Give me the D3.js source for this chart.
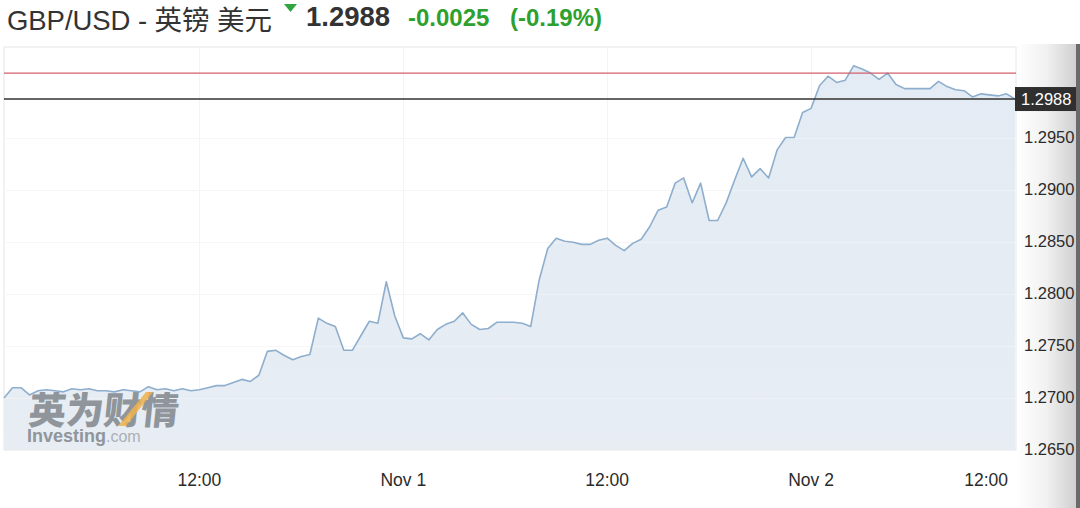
<!DOCTYPE html>
<html>
<head>
<meta charset="utf-8">
<script src="https://cdn.jsdelivr.net/npm/d3@7"></script>
<style>
  html, body { margin: 0; padding: 0; background: #fff; }
  svg { display: block; }
  text { font-family: "Liberation Sans", Arial, "Noto Sans CJK SC", sans-serif; }
</style>
</head>
<body>
<svg id="chart" width="1080" height="508"></svg>
<script>
// ---------- data ----------
const pairTitle = "GBP/USD - 英镑 美元";
const lastPrice = 1.2988;
const prevClose = 1.3013;
const changeText = "-0.0025";
const changePctText = "(-0.19%)";

const seriesStart = "2018-10-31T00:30:00Z";
const intervalMinutes = 30;
const prices = [
  1.2700, 1.2710, 1.2710, 1.2703, 1.2707, 1.2708, 1.2707, 1.2706, 1.2709, 1.2708,
  1.2709, 1.2707, 1.2707, 1.2706, 1.2708, 1.2707, 1.2706, 1.2711, 1.2708, 1.2709,
  1.2707, 1.2709, 1.2707, 1.2708, 1.2710, 1.2712, 1.2712, 1.2715, 1.2718, 1.2716,
  1.2722, 1.2745, 1.2746, 1.2741, 1.2737, 1.2740, 1.2742, 1.2777, 1.2772, 1.2769,
  1.2746, 1.2746, 1.2760, 1.2774, 1.2772, 1.2812, 1.2779, 1.2758, 1.2757, 1.2762,
  1.2756, 1.2766, 1.2771, 1.2774, 1.2782, 1.2771, 1.2766, 1.2767, 1.2773, 1.2773,
  1.2773, 1.2772, 1.2769, 1.2814, 1.2844, 1.2854, 1.2851, 1.2850, 1.2848, 1.2848,
  1.2852, 1.2854, 1.2847, 1.2842, 1.2849, 1.2853, 1.2865, 1.2881, 1.2884, 1.2907,
  1.2912, 1.2888, 1.2907, 1.2871, 1.2871, 1.2888, 1.2910, 1.2931, 1.2913, 1.2921,
  1.2912, 1.2939, 1.2951, 1.2951, 1.2975, 1.2979, 1.3001, 1.3010, 1.3004, 1.3006,
  1.3020, 1.3017, 1.3013, 1.3007, 1.3013, 1.3002, 1.2998, 1.2998, 1.2998, 1.2998,
  1.3005, 1.3000, 1.2997, 1.2996, 1.2990, 1.2993, 1.2992, 1.2991, 1.2993, 1.2988
];

const yTicks = [1.2650, 1.2700, 1.2750, 1.2800, 1.2850, 1.2900, 1.2950];
const xTickTimes = ["2018-10-31T12:00:00Z", "2018-11-01T00:00:00Z", "2018-11-01T12:00:00Z",
                    "2018-11-02T00:00:00Z", "2018-11-02T12:00:00Z"];
const xTickLabels = ["12:00", "Nov 1", "12:00", "Nov 2", "12:00"];
const watermarkCn = "英为财情";

// ---------- layout ----------
const svg = d3.select("#chart");
const plot = { left: 4, right: 1016, top: 47, bottom: 450 };

const startDate = new Date(seriesStart);
const data = prices.map((v, i) => ({ t: d3.utcMinute.offset(startDate, intervalMinutes * i), v }));

const x = d3.scaleUtc()
  .domain([startDate, data[data.length - 1].t])
  .range([plot.left, plot.right - 1]);
const y = d3.scaleLinear()
  .domain([1.2650, 1.30381])
  .range([plot.bottom, plot.top]);

// right axis panel gradient
const defs = svg.append("defs");
const grad = defs.append("linearGradient").attr("id", "panelGrad")
  .attr("x1", "0").attr("x2", "1").attr("y1", "0").attr("y2", "0");
grad.append("stop").attr("offset", "0%").attr("stop-color", "#ffffff");
grad.append("stop").attr("offset", "50%").attr("stop-color", "#f1f1f1");
grad.append("stop").attr("offset", "100%").attr("stop-color", "#d0d0d0");

const areaGrad = defs.append("linearGradient").attr("id", "areaGrad")
  .attr("x1", "0").attr("x2", "0").attr("y1", "0").attr("y2", "1");
areaGrad.append("stop").attr("offset", "0%").attr("stop-color", "#e3ebf4");
areaGrad.append("stop").attr("offset", "100%").attr("stop-color", "#e7edf3");

svg.append("rect").attr("x", plot.right).attr("y", 44).attr("width", 1076 - plot.right).attr("height", 464)
  .attr("fill", "url(#panelGrad)");
svg.append("rect").attr("x", 1076).attr("y", 44).attr("width", 4).attr("height", 464)
  .attr("fill", "#6a6a6a");

// plot frame
svg.append("rect").attr("x", plot.left).attr("y", plot.top)
  .attr("width", plot.right - plot.left).attr("height", plot.bottom - plot.top)
  .attr("fill", "#ffffff").attr("stroke", "#e6e6e6").attr("stroke-width", 1);

// gridlines
const grid = svg.append("g");
grid.selectAll("line.h").data(yTicks).join("line")
  .attr("x1", plot.left).attr("x2", plot.right)
  .attr("y1", d => Math.round(y(d)) + 0.5).attr("y2", d => Math.round(y(d)) + 0.5)
  .attr("stroke", "#f2f2f2");
grid.selectAll("line.v").data(xTickTimes.slice(0, 4)).join("line")
  .attr("y1", plot.top).attr("y2", plot.bottom)
  .attr("x1", d => Math.round(x(new Date(d))) + 0.5).attr("x2", d => Math.round(x(new Date(d))) + 0.5)
  .attr("stroke", "#f4f4f4");

// area
const area = d3.area().x(d => x(d.t)).y0(plot.bottom).y1(d => y(d.v));
svg.append("path").datum(data).attr("d", area).attr("fill", "url(#areaGrad)");

// gridlines faintly over the area
const grid2 = svg.append("g").attr("opacity", 0.35);
grid2.selectAll("line").data(yTicks.slice(1)).join("line")
  .attr("x1", plot.left).attr("x2", plot.right)
  .attr("y1", d => Math.round(y(d)) + 0.5).attr("y2", d => Math.round(y(d)) + 0.5)
  .attr("stroke", "#ffffff");

// watermark
const wm = svg.append("g").attr("opacity", 0.85);
wm.append("text").attr("x", 27).attr("y", 424)
  .attr("font-family", "'Noto Sans CJK SC', sans-serif").attr("font-weight", 900)
  .attr("font-size", 37.5).attr("fill", "#80868c").attr("transform", "skewX(-6) translate(45,0)")
  .text(watermarkCn);
wm.append("path").attr("d", "M118,426 L146,392 L153,392 L126,426 Z").attr("fill", "#f0a830").attr("opacity", 0.85);
wm.append("text").attr("x", 27).attr("y", 442)
  .attr("font-size", 18).attr("font-weight", "bold").attr("fill", "#80868c")
  .text("Investing")
  .append("tspan").attr("font-weight", "normal").attr("font-size", 16).attr("fill", "#a2a6aa").text(".com");

// series line
const line = d3.line().x(d => x(d.t)).y(d => y(d.v));
svg.append("path").datum(data).attr("d", line)
  .attr("fill", "none").attr("stroke", "#8eaecd").attr("stroke-width", 1.6)
  .attr("stroke-linejoin", "round");

// previous close (red) and last price (black)
svg.append("line").attr("x1", plot.left).attr("x2", plot.right)
  .attr("y1", y(prevClose)).attr("y2", y(prevClose))
  .attr("stroke", "#d2606b").attr("stroke-width", 1.3);
svg.append("line").attr("x1", plot.left).attr("x2", plot.right)
  .attr("y1", y(lastPrice)).attr("y2", y(lastPrice))
  .attr("stroke", "#333333").attr("stroke-width", 1.4);

// y axis labels
const yFmt = d3.format(".4f");
svg.append("g").selectAll("text").data(yTicks).join("text")
  .attr("x", 1024).attr("y", d => y(d) - 1)
  .attr("dy", "0.35em").attr("font-size", 16.5).attr("fill", "#2b2b2b")
  .text(d => yFmt(d));

// last price box
const ly = y(lastPrice);
svg.append("rect").attr("x", plot.right - 1).attr("y", ly - 12).attr("width", 1076 - plot.right + 1).attr("height", 24)
  .attr("fill", "#2f2f2f");
svg.append("text").attr("x", 1021).attr("y", ly).attr("dy", "0.36em")
  .attr("font-size", 16.5).attr("fill", "#ffffff").text(yFmt(lastPrice));

// x axis labels
svg.append("g").selectAll("text").data(xTickTimes).join("text")
  .each(function(d, i) {
    const px = x(new Date(d));
    const sel = d3.select(this);
    if (px > plot.right - 30) {
      sel.attr("x", plot.right - 8).attr("text-anchor", "end");
    } else {
      sel.attr("x", px).attr("text-anchor", "middle");
    }
  })
  .attr("y", 486).attr("font-size", 17.5).attr("fill", "#2b2b2b")
  .text((d, i) => xTickLabels[i]);

// header
svg.append("text").attr("x", 7).attr("y", 30).attr("font-size", 27.5).attr("fill", "#333")
  .attr("textLength", 265).attr("lengthAdjust", "spacing")
  .text(pairTitle);
svg.append("path").attr("d", "M284,4 L297,4 L290.5,12 Z").attr("fill", "#2ea640");
svg.append("text").attr("x", 306).attr("y", 26).attr("font-size", 27.5).attr("font-weight", "bold")
  .attr("fill", "#333").text(yFmt(lastPrice));
svg.append("text").attr("x", 408).attr("y", 26).attr("font-size", 24).attr("font-weight", "bold")
  .attr("fill", "#2da02d").text(changeText);
svg.append("text").attr("x", 510).attr("y", 26).attr("font-size", 24).attr("font-weight", "bold")
  .attr("fill", "#2da02d").text(changePctText);
</script>
</body>
</html>
